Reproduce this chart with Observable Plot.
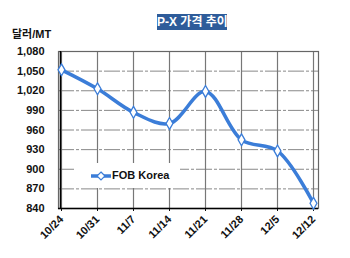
<!DOCTYPE html>
<html>
<head>
<meta charset="utf-8">
<script src="https://cdn.jsdelivr.net/npm/d3@7"></script>
<script src="https://cdn.jsdelivr.net/npm/@observablehq/plot@0.6"></script>
<style>
  html, body { margin: 0; padding: 0; background: #fff; }
  #wrap { position: relative; width: 350px; height: 258px; font-family: "Liberation Sans", Arial, "Noto Sans CJK KR", sans-serif; }
  #header { position: relative; width: 350px; height: 40px; }
  #title { position: absolute; left: 157px; top: 14px; width: 70px; height: 16px; background: #2e5c9a; color: #fff;
           font-weight: bold; font-size: 12px; line-height: 16px; text-align: center; white-space: nowrap;
           font-family: "Liberation Sans", "Noto Sans CJK KR", sans-serif; }
  #unit { position: absolute; left: 12px; top: 25px; font-weight: bold; font-size: 11px; color: #111;
          font-family: "Liberation Sans", "Noto Sans CJK KR", sans-serif; }
  #legend { position: absolute; left: 76px; top: 163px; width: 104px; height: 25px; background: #fff;
            font-weight: bold; font-size: 11px; color: #111; }
  #legend svg { position: absolute; left: 14px; top: 8px; }
  #legend span { position: absolute; left: 36px; top: 6px; }
</style>
</head>
<body>
<div id="wrap">
  <div id="header"><div id="title">P-X 가격 추이</div><div id="unit">달러/MT</div></div>
  <div id="chart"></div>
  <div id="legend"><svg width="22" height="10"><line x1="1" y1="5" x2="21" y2="5" stroke="#3b7dd8" stroke-width="3.5"/><path d="M11,1 L15,5 L11,9 L7,5 Z" fill="#fff" stroke="#3b7dd8" stroke-width="1.2"/></svg><span>FOB Korea</span></div>
</div>
<script>
const dates = ["10/24", "10/31", "11/7", "11/14", "11/21", "11/28", "12/5", "12/12"];
const fobKorea = [1052, 1023, 987, 970, 1019, 945, 928, 848];
const yTicks = [840, 870, 900, 930, 960, 990, 1020, 1050, 1080];
const seriesName = "FOB Korea";

const data = dates.map((d, i) => ({date: d, value: fobKorea[i], series: seriesName}));
const blue = "#3b7dd8";

const chart = Plot.plot({
  width: 350,
  height: 218,
  marginLeft: 58,
  marginRight: 32,
  marginTop: 11,
  marginBottom: 50,
  style: {fontFamily: "'Liberation Sans', Arial, sans-serif", fontSize: "11px", fontWeight: "bold", color: "#111", background: "#fff"},
  x: {type: "point", domain: dates, insetLeft: 1, insetRight: 3, padding: 0},
  y: {domain: [840, 1080], ticks: yTicks},
  marks: [
    Plot.gridY(yTicks, {stroke: "#888", strokeOpacity: 1, strokeWidth: 1, strokeDasharray: "16,2,3,2"}),
    Plot.gridX(dates, {stroke: "#777", strokeOpacity: 1, strokeWidth: 1.2}),
    Plot.frame({stroke: "#666", strokeWidth: 1.2}),
    Plot.axisY(yTicks, {tickFormat: d3.format(","), tickSize: 0, tickPadding: 14, fontWeight: "bold", fontSize: 11, label: null}),
    Plot.axisX(dates, {tickRotate: -45, tickSize: 3, tickPadding: 6, fontWeight: "bold", fontSize: 11, label: null}),
    Plot.ruleY([840], {stroke: "#000", strokeWidth: 1.5}),
    Plot.ruleX([dates[0]], {stroke: "#000", strokeWidth: 1.5, dx: -1}),
    Plot.line(data, {x: "date", y: "value", stroke: blue, strokeWidth: 3.5, curve: "catmull-rom"}),
    Plot.dot(data, {x: "date", y: "value", symbol: "diamond", r: 3.6, fill: "#fff", stroke: blue, strokeWidth: 1.3})
  ]
});
document.getElementById("chart").appendChild(chart);
</script>
</body>
</html>
